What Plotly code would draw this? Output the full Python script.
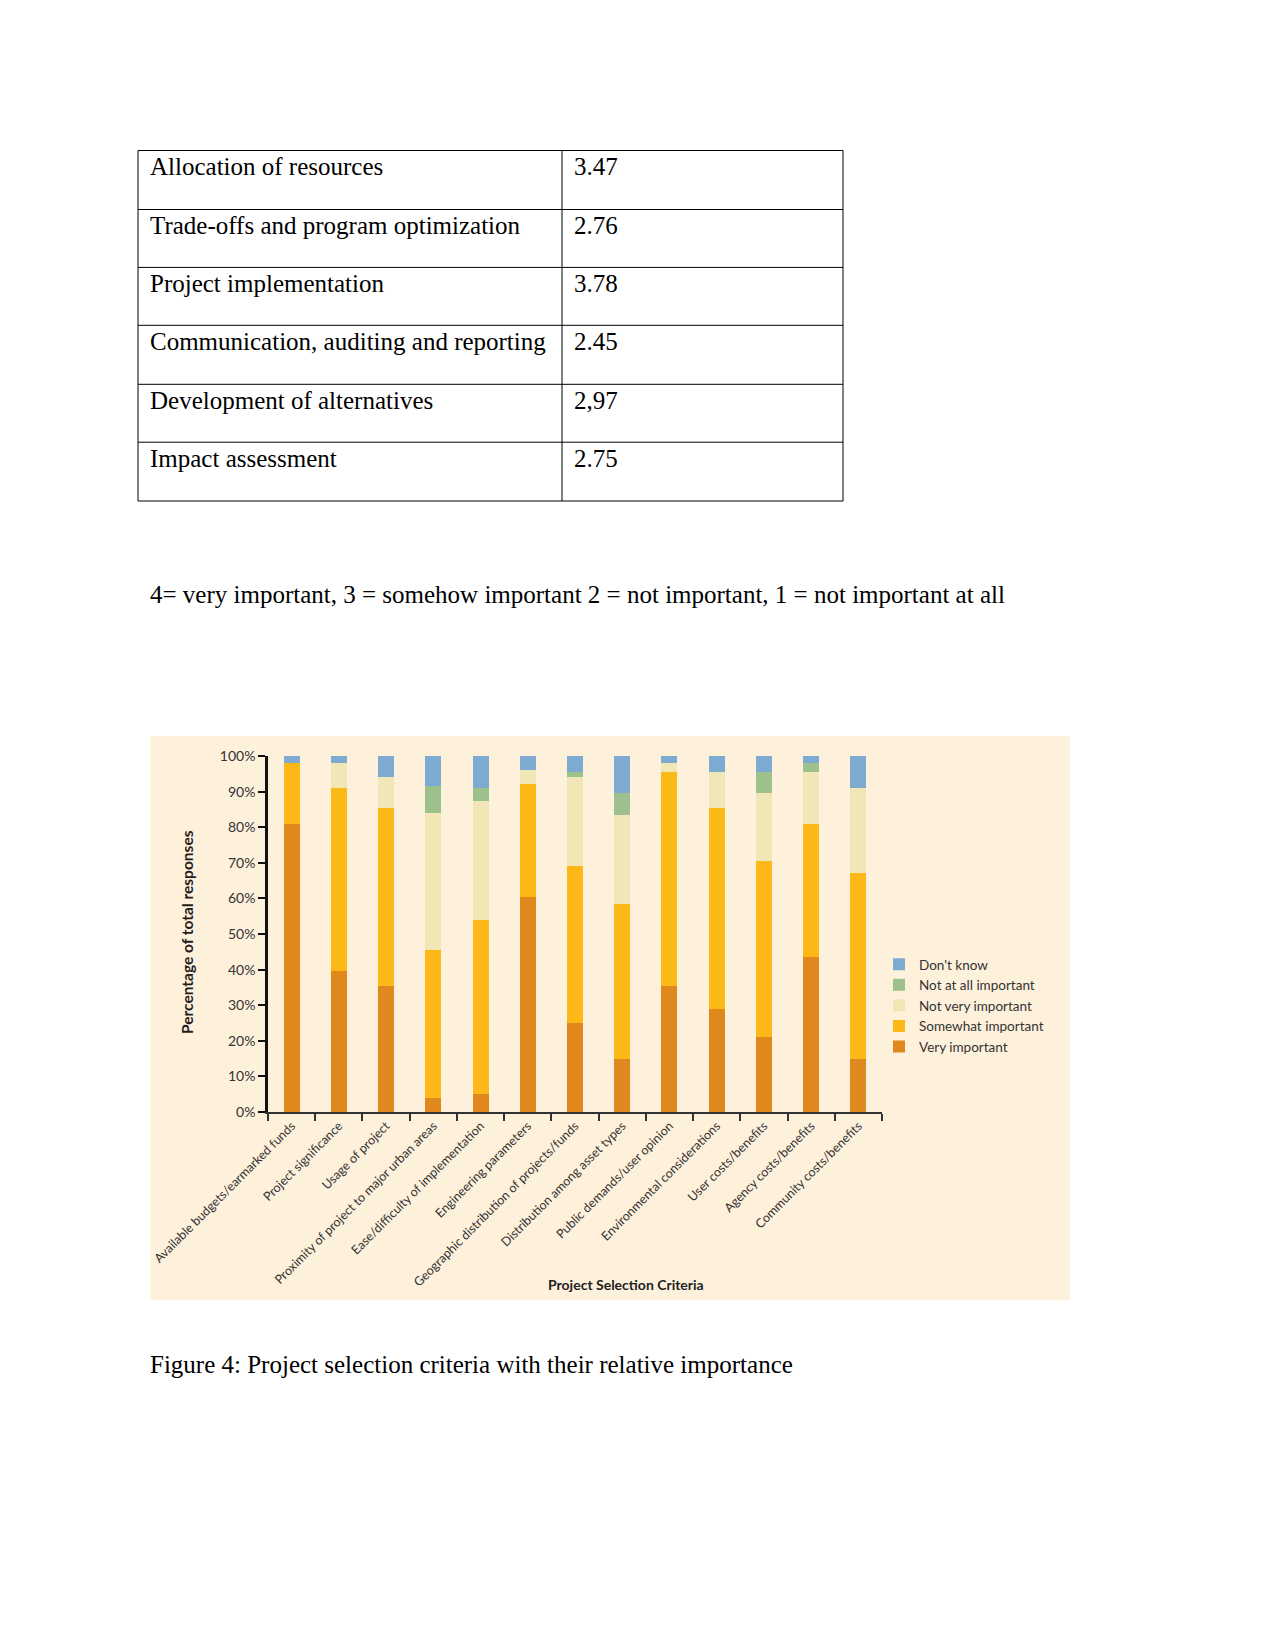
import plotly.graph_objects as go

W, H = 1275, 1651


def xp(px):
    return px / W


def yp(py):
    return 1 - py / H


# ---------------- data ----------------
table_labels = [
    "Allocation of resources",
    "Trade-offs and program optimization",
    "Project implementation",
    "Communication, auditing and reporting",
    "Development of alternatives",
    "Impact assessment",
]
table_values = ["3.47", "2.76", "3.78", "2.45", "2,97", "2.75"]

scale_note = "4= very important, 3 = somehow important 2 = not important, 1 = not important at all"
caption = "Figure 4: Project selection criteria with their relative importance"

categories = [
    "Available budgets/earmarked funds",
    "Project significance",
    "Usage of project",
    "Proximity of project to major urban areas",
    "Ease/difficulty of implementation",
    "Engineering parameters",
    "Geographic distribution of projects/funds",
    "Distribution among asset types",
    "Public demands/user opinion",
    "Environmental considerations",
    "User costs/benefits",
    "Agency costs/benefits",
    "Community costs/benefits",
]
very_important = [81, 39.5, 35.5, 4, 5, 60.5, 25, 15, 35.5, 29, 21, 43.5, 15]
somewhat_important = [17, 51.5, 50, 41.5, 49, 31.5, 44, 43.5, 60, 56.5, 49.5, 37.5, 52]
not_very_important = [0, 7, 8.5, 38.5, 33.5, 4, 25, 25, 2.5, 10, 19, 14.5, 24]
not_at_all_important = [0, 0, 0, 7.5, 3.5, 0, 1.5, 6, 0, 0, 6, 2.5, 0]
dont_know = [2, 2, 6, 8.5, 9, 4, 4.5, 10.5, 2, 4.5, 4.5, 2, 9]

series_names = ["Very important", "Somewhat important", "Not very important",
                "Not at all important", "Don't know"]
series_values = [very_important, somewhat_important, not_very_important,
                 not_at_all_important, dont_know]
series_colors = ["#E0881E", "#FCB817", "#F0E6B6", "#9EC08D", "#7DAAD1"]

y_ticks = [0, 10, 20, 30, 40, 50, 60, 70, 80, 90, 100]
y_tick_labels = [f"{v}%" for v in y_ticks]

# ---------------- figure ----------------
fig = go.Figure()
for name, vals, col in zip(series_names, series_values, series_colors):
    fig.add_trace(go.Bar(
        x=categories, y=vals, name=name, marker=dict(color=col, line=dict(width=0)),
        width=0.34,
    ))

chart_font = "Lato, 'Open Sans', sans-serif"
serif = "'Liberation Serif', 'Times New Roman', serif"

shapes = []
annotations = []

# cream chart background
shapes.append(dict(type="rect", xref="paper", yref="paper",
                   x0=xp(150.5), x1=xp(1070), y0=yp(1300), y1=yp(736),
                   fillcolor="#FEF1DC", line=dict(width=0), layer="below"))

# table
t_left, t_mid, t_right = 138, 562, 843
row_tops = [150.5, 209.5, 267.4, 325.3, 384.3, 442.2]
t_bottom = 501
text_x = 147.5
for yv in row_tops + [t_bottom]:
    shapes.append(dict(type="line", xref="paper", yref="paper",
                       x0=xp(t_left), x1=xp(t_right), y0=yp(yv), y1=yp(yv),
                       line=dict(color="black", width=1)))
for xv in [t_left, t_mid, t_right]:
    shapes.append(dict(type="line", xref="paper", yref="paper",
                       x0=xp(xv), x1=xp(xv), y0=yp(row_tops[0]), y1=yp(t_bottom),
                       line=dict(color="black", width=1)))
for top, lab, val in zip(row_tops, table_labels, table_values):
    annotations.append(dict(text=lab, xref="paper", yref="paper", x=xp(text_x), y=yp(top + 16),
                            xanchor="left", yanchor="middle", showarrow=False,
                            font=dict(family=serif, size=25, color="black")))
    annotations.append(dict(text=val, xref="paper", yref="paper", x=xp(572), y=yp(top + 16),
                            xanchor="left", yanchor="middle", showarrow=False,
                            font=dict(family=serif, size=25, color="black")))

annotations.append(dict(text=scale_note, xref="paper", yref="paper", x=xp(text_x), y=yp(594),
                        xanchor="left", yanchor="middle", showarrow=False,
                        font=dict(family=serif, size=25, color="black")))
annotations.append(dict(text=caption, xref="paper", yref="paper", x=xp(text_x), y=yp(1364),
                        xanchor="left", yanchor="middle", showarrow=False,
                        font=dict(family=serif, size=25, color="black")))

# axis titles
annotations.append(dict(text="<b>Percentage of total responses</b>", xref="paper", yref="paper",
                        x=xp(187), y=yp(932), xanchor="center", yanchor="middle", textangle=-90,
                        showarrow=False, font=dict(family=chart_font, size=15.5, color="#1e1e1e")))
annotations.append(dict(text="<b>Project Selection Criteria</b>", xref="paper", yref="paper",
                        x=xp(626), y=yp(1284), xanchor="center", yanchor="middle",
                        showarrow=False, font=dict(family=chart_font, size=14, color="#1e1e1e")))

fig.update_layout(
    width=W, height=H,
    autosize=False,
    margin=dict(l=0, r=0, t=0, b=0, pad=0, autoexpand=False),
    paper_bgcolor="white",
    plot_bgcolor="rgba(0,0,0,0)",
    barmode="stack",
    shapes=shapes,
    annotations=annotations,
    showlegend=True,
    legend=dict(x=xp(879), y=yp(949), xanchor="left", yanchor="top",
                traceorder="reversed", bgcolor="rgba(0,0,0,0)",
                font=dict(family=chart_font, size=13.5, color="#333"),
                itemclick=False),
    xaxis=dict(
        domain=[xp(268), xp(882)],
        type="category",
        range=[-0.5, 12.5],
        tickson="boundaries",
        ticks="outside", ticklen=7, tickcolor="#333", tickwidth=1.5,
        showline=True, linecolor="#333", linewidth=1.5,
        showgrid=False, zeroline=False,
        tickangle=-45,
        automargin=False,
        tickfont=dict(family=chart_font, size=12.5, color="#333"),
        fixedrange=True,
    ),
    yaxis=dict(
        domain=[yp(1112), yp(756)],
        range=[0, 100],
        tickmode="array",
        tickvals=y_ticks,
        ticktext=y_tick_labels,
        ticks="outside", ticklen=7, tickcolor="#111", tickwidth=2,
        showline=True, linecolor="#111", linewidth=2.5,
        showgrid=False, zeroline=False,
        automargin=False,
        tickfont=dict(family=chart_font, size=14, color="#333"),
        fixedrange=True,
    ),
)

fig.write_html("out.html")
